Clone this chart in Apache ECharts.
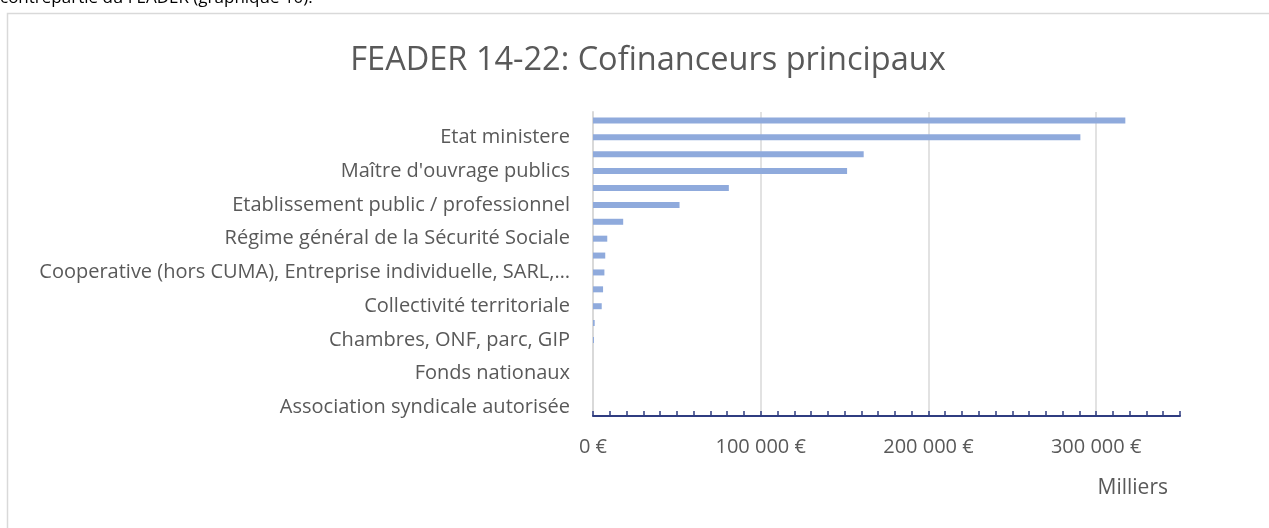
<!DOCTYPE html>
<html>
<head>
<meta charset="utf-8">
<title>FEADER 14-22: Cofinanceurs principaux</title>
<script src="https://cdn.jsdelivr.net/npm/echarts@6/dist/echarts.min.js"></script>
<style>
	html, body { margin: 0; padding: 0; background: #fff; }
	#chart { width: 1269px; height: 528px; }
</style>
</head>
<body>
<div id="chart"></div>
<script>
// cofinanceurs, du bas vers le haut (une étiquette sur deux est affichée)
var categories = [
	'Association syndicale autorisée',
	'Etablissement public de coopération intercommunale',
	'Fonds nationaux',
	'Agence de l\'eau',
	'Chambres, ONF, parc, GIP',
	'Commune',
	'Collectivité territoriale',
	'Association',
	'Cooperative (hors CUMA), Entreprise individuelle, SARL, SA, SAS',
	'CUMA',
	'Régime général de la Sécurité Sociale',
	'Autres financeurs publics',
	'Etablissement public / professionnel',
	'Département',
	'Maître d\'ouvrage publics',
	'Autofinancement',
	'Etat ministere',
	'Région'
];
// montants en milliers d'euros
var montants = [0, 0, 0, 0, 600, 1000, 5200, 6000, 6800, 7300, 8500, 18000, 51600, 81000, 151500, 161400, 290600, 317400];
var xTicks = [0, 100000, 200000, 300000];

var chart = echarts.init(document.getElementById('chart'));

function formatEuro(v) {
	return String(v).replace(/\B(?=(\d{3})+(?!\d))/g, ' ') + ' €';
}

var font = '"Open Sans", sans-serif';

var option = {
	animation: false,
	title: {
		text: 'FEADER 14-22: Cofinanceurs principaux',
		left: 643,
		textAlign: 'center',
		top: 39,
		textStyle: {
			color: '#595959',
			fontFamily: font,
			fontSize: 32.5,
			fontWeight: 'normal'
		}
	},
	graphic: [
		{
			type: 'rect',
			shape: { x: 7.5, y: 13.5, width: 1400, height: 700 },
			style: { fill: 'none', stroke: '#d9d9d9', lineWidth: 1.5 },
			silent: true
		},
		{
			type: 'text',
			left: 0,
			top: -10,
			style: {
				text: 'contrepartie du FEADER (graphique 10).',
				fill: '#000',
				font: '17px ' + font
			}
		},
		{
			type: 'text',
			right: 1269 - 1168,
			top: 478,
			style: {
				text: 'Milliers',
				fill: '#595959',
				font: '21px ' + font
			}
		}
	],
	grid: {
		left: 593,
		right: 89,
		top: 112,
		bottom: 112
	},
	xAxis: {
		type: 'value',
		min: 0,
		max: 350000,
		interval: 10000,
		axisLine: {
			show: true,
			lineStyle: { color: '#2f3c80', width: 2 }
		},
		axisTick: {
			show: true,
			inside: true,
			length: 5,
			lineStyle: { color: '#2f3c80', width: 1.5 }
		},
		axisLabel: {
			margin: 21,
			color: '#595959',
			fontFamily: font,
			fontSize: 20,
			formatter: function (v) {
				return xTicks.indexOf(v) >= 0 ? formatEuro(v) : '';
			}
		},
		splitLine: {
			show: true,
			lineStyle: {
				width: 1.5,
				color: ['#d9d9d9', 'rgba(0,0,0,0)', 'rgba(0,0,0,0)', 'rgba(0,0,0,0)', 'rgba(0,0,0,0)',
					'rgba(0,0,0,0)', 'rgba(0,0,0,0)', 'rgba(0,0,0,0)', 'rgba(0,0,0,0)', 'rgba(0,0,0,0)']
			}
		}
	},
	yAxis: {
		type: 'category',
		data: categories,
		axisLine: {
			show: true,
			lineStyle: { color: '#d9d9d9', width: 2 }
		},
		axisTick: { show: false },
		axisLabel: {
			interval: 1,
			margin: 23,
			color: '#595959',
			fontFamily: font,
			fontSize: 20,
			width: 534,
			overflow: 'truncate',
			ellipsis: '…'
		},
		splitLine: { show: false }
	},
	series: [{
		type: 'bar',
		data: montants,
		barWidth: 6,
		itemStyle: { color: '#8faadc' }
	}]
};
chart.setOption(option);
</script>
</body>
</html>
